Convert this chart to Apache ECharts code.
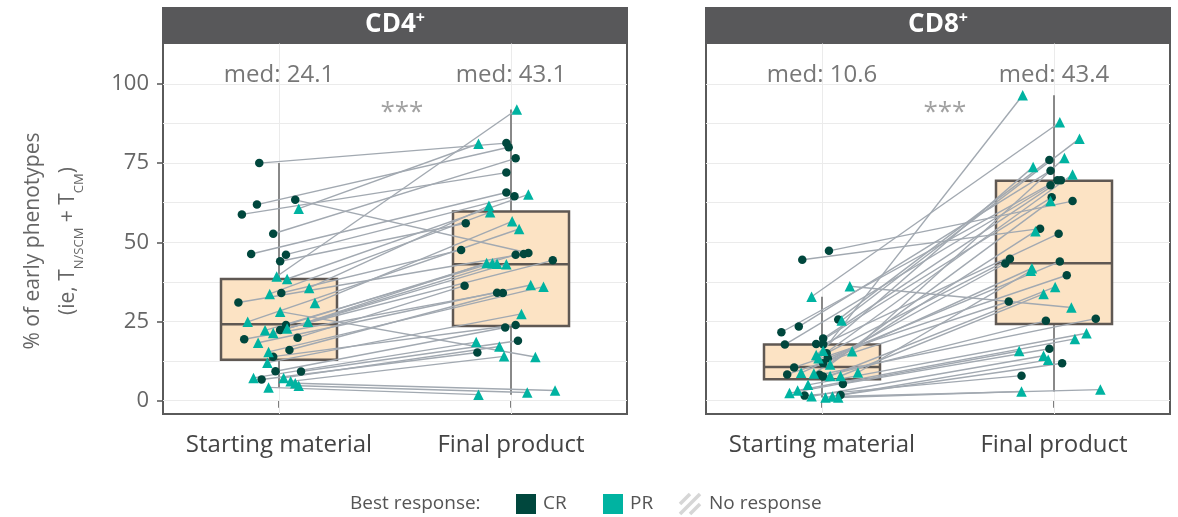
<!DOCTYPE html>
<html>
<head>
<meta charset="utf-8">
<script src="https://cdn.jsdelivr.net/npm/echarts@6/dist/echarts.min.js"></script>
<style>
  html, body { margin: 0; padding: 0; background: #fff; }
  #chart { width: 1178px; height: 517px; }
</style>
</head>
<body>
<div id="chart"></div>
<script>
// Sample stages on the x axis and tick values on the y axis
const stages = ['Starting material', 'Final product'];
const yTicks = [0, 25, 50, 75, 100];
const gridValues = [0, 12.5, 25, 37.5, 50, 62.5, 75, 87.5, 100];

// CD4+ : one entry per patient (best response, % early phenotypes before / after)
const cd4Response = [
  'CR','CR','CR','CR','CR','CR','CR','CR','CR','CR','CR','CR','CR','CR','CR','CR','CR','CR','CR',
  'PR','PR','PR','PR','PR','PR','PR','PR','PR','PR','PR','PR','PR','PR','PR','PR','PR','PR','PR','PR','PR'
];
const cd4Start = [
  75.0, 63.4, 61.9, 58.8, 52.7, 46.3, 46.1, 44.0, 34.0, 31.0, 23.9, 22.3, 19.9, 19.4, 16.0, 13.9, 9.3, 9.2, 6.7,
  60.6, 39.2, 38.4, 35.6, 33.7, 30.8, 28.1, 24.9, 24.9, 22.8, 22.2, 21.4, 18.3, 15.4, 12.0, 7.2, 7.2, 6.1, 5.5, 4.7, 4.2
];
const cd4Final = [
  81.3, 46.6, 80.0, 72.0, 76.5, 65.7, 64.5, 56.0, 47.6, 46.3, 46.1, 44.3, 36.3, 34.1, 34.0, 23.9, 23.1, 18.9, 15.2,
  81.1, 91.9, 65.1, 61.5, 59.5, 56.6, 13.8, 54.2, 43.5, 43.2, 43.4, 43.1, 36.5, 36.0, 27.4, 18.5, 17.1, 14.0, 3.2, 2.6, 1.9
];
// horizontal spread of each point around its stage (in half-stage units)
const cd4StartJitter = [
  -0.17, 0.14, -0.19, -0.32, -0.05, -0.24, 0.06, 0.01, 0.02, -0.35, 0.06, 0.01, 0.16, -0.30, 0.09, -0.05, -0.03, 0.19, -0.15,
  0.17, -0.02, 0.07, 0.26, -0.08, 0.31, 0.01, -0.27, 0.25, 0.07, -0.12, -0.05, -0.18, -0.09, -0.10, -0.22, 0.04, 0.10, 0.14, 0.17, -0.09
];
const cd4FinalJitter = [
  -0.04, 0.15, -0.02, -0.04, 0.04, -0.04, 0.03, -0.39, -0.43, 0.11, 0.04, 0.36, -0.40, -0.12, -0.07, 0.04, -0.05, 0.06, -0.29,
  -0.28, 0.05, 0.15, -0.19, -0.18, 0.01, 0.21, 0.07, -0.21, -0.12, -0.16, -0.04, 0.17, 0.28, 0.09, -0.30, -0.10, -0.06, 0.38, 0.14, -0.28
];
// box statistics per stage: [lower whisker, Q1, median, Q3, upper whisker]
const cd4Box = [
  [4.2, 12.9, 24.1, 38.4, 75.0],
  [1.9, 23.6, 43.1, 59.7, 91.9]
];

// CD8+
const cd8Response = [
  'CR','CR','CR','CR','CR','CR','CR','CR','CR','CR','CR','CR','CR','CR','CR','CR','CR','CR','CR',
  'PR','PR','PR','PR','PR','PR','PR','PR','PR','PR','PR','PR','PR','PR','PR','PR','PR','PR','PR','PR'
];
const cd8Start = [
  47.3, 44.5, 25.6, 23.4, 21.6, 19.6, 17.7, 17.9, 17.8, 15.0, 13.4, 11.8, 10.5, 8.3, 8.2, 7.6, 5.3, 1.8, 1.6,
  36.1, 32.8, 25.3, 15.8, 15.6, 14.4, 13.4, 11.4, 8.6, 8.8, 8.9, 7.8, 7.8, 5.0, 3.2, 2.4, 1.4, 1.0, 1.3, 1.0
];
const cd8Final = [
  63.0, 54.3, 76.0, 72.6, 69.6, 69.6, 68.0, 64.2, 52.7, 44.8, 43.9, 43.3, 39.6, 31.3, 25.9, 25.2, 16.4, 11.8, 7.9,
  29.4, 87.9, 82.7, 96.4, 76.6, 73.8, 71.4, 63.0, 53.5, 41.8, 41.0, 35.9, 33.7, 21.3, 19.5, 15.7, 14.2, 12.9, 3.5, 2.9
];
const cd8StartJitter = [
  0.06, -0.17, 0.14, -0.20, -0.35, 0.01, -0.32, -0.05, 0.01, 0.04, 0.05, 0.01, -0.24, -0.30, -0.02, 0.01, 0.18, 0.16, -0.15,
  0.24, -0.09, 0.17, 0.01, 0.26, -0.05, -0.03, 0.07, -0.07, -0.18, 0.31, 0.07, 0.16, -0.12, -0.21, -0.28, -0.09, 0.03, 0.09, 0.14
];
const cd8FinalJitter = [
  0.16, -0.12, -0.04, -0.03, 0.03, 0.06, -0.03, -0.02, 0.04, -0.38, 0.05, -0.42, 0.11, -0.39, 0.36, -0.07, -0.04, 0.07, -0.28,
  0.15, 0.05, 0.22, -0.27, 0.09, -0.18, 0.16, -0.03, -0.16, -0.19, -0.20, 0.01, -0.09, 0.28, 0.18, -0.30, -0.09, -0.05, 0.40, -0.28
];
const cd8Box = [
  [1.0, 6.8, 10.6, 17.7, 32.8],
  [2.9, 24.2, 43.4, 69.4, 96.4]
];

const panelTitles = ['CD4', 'CD8'];
const significance = ['***', '***'];

const panels = [
  { response: cd4Response, start: cd4Start, final: cd4Final, startJitter: cd4StartJitter, finalJitter: cd4FinalJitter, box: cd4Box },
  { response: cd8Response, start: cd8Start, final: cd8Final, startJitter: cd8StartJitter, finalJitter: cd8FinalJitter, box: cd8Box }
];

const FONT = 'Open Sans';
const COLOR = { CR: '#00473d', PR: '#00b3a1' };
const GRID_LEFT = [163, 706];
const GRID_TOP = 43;
const GRID_W = 464;
const GRID_H = 371;

// stage i sits at 1 + 2i on the hidden value axis (0..4)
const at = (stage, j) => 1 + 2 * stage + j;

function panelSeries(d, p) {
  const xCat = 2 * p, xVal = 2 * p + 1;
  const pairs = d.start.map((s, i) => ({
    coords: [[at(0, d.startJitter[i]), s], [at(1, d.finalJitter[i]), d.final[i]]]
  }));
  const points = resp => {
    const out = [];
    d.start.forEach((s, i) => {
      if (d.response[i] === resp) {
        out.push([at(0, d.startJitter[i]), s]);
        out.push([at(1, d.finalJitter[i]), d.final[i]]);
      }
    });
    return out;
  };
  const whiskers = [];
  d.box.forEach((b, i) => {
    whiskers.push({ coords: [[at(i, 0), b[0]], [at(i, 0), b[1]]] });
    whiskers.push({ coords: [[at(i, 0), b[3]], [at(i, 0), b[4]]] });
  });
  const base = { xAxisIndex: xVal, yAxisIndex: p, silent: true };
  return [
    Object.assign({}, base, {
      type: 'scatter', data: [], z: 1,
      markLine: {
        silent: true, symbol: 'none', z: 1, label: { show: false },
        lineStyle: { color: '#ebebeb', width: 1, type: 'solid' },
        emphasis: { disabled: true },
        data: gridValues.map(v => ({ yAxis: v })).concat([{ xAxis: 1 }, { xAxis: 3 }])
      }
    }),
    {
      type: 'boxplot', xAxisIndex: xCat, yAxisIndex: p, silent: true, z: 3,
      boxWidth: ['50%', '50%'],
      itemStyle: { color: '#fce3c4', borderColor: '#5f5853', borderWidth: 2.5 },
      data: d.box.map(b => [b[1], b[1], b[2], b[3], b[3]])
    },
    Object.assign({}, base, {
      type: 'lines', coordinateSystem: 'cartesian2d', z: 3,
      lineStyle: { color: '#7d7d7d', width: 1.8, opacity: 1, curveness: 0 },
      data: whiskers
    }),
    Object.assign({}, base, {
      type: 'lines', coordinateSystem: 'cartesian2d', z: 4,
      lineStyle: { color: '#a2a9b1', width: 1.4, opacity: 1, curveness: 0 },
      data: pairs
    }),
    Object.assign({}, base, {
      type: 'scatter', name: 'CR', z: 5, symbol: 'circle', symbolSize: 8.5,
      itemStyle: { color: COLOR.CR, opacity: 1 }, data: points('CR')
    }),
    Object.assign({}, base, {
      type: 'scatter', name: 'PR', z: 5, symbol: 'triangle', symbolSize: 10.5,
      itemStyle: { color: COLOR.PR, opacity: 1 }, data: points('PR')
    }),
    Object.assign({}, base, {
      type: 'scatter', z: 6, symbolSize: 0,
      label: {
        show: true, position: 'inside', fontFamily: FONT, fontSize: 24, color: '#555',
        formatter: q => 'med: ' + q.value[2].toFixed(1)
      },
      data: d.box.map((b, i) => [at(i, 0), 102.8, b[2]])
    }),
    Object.assign({}, base, {
      type: 'scatter', z: 6, symbolSize: 0,
      label: { show: true, position: 'inside', fontFamily: FONT, fontSize: 26, color: '#8a8a8a', formatter: significance[p] },
      data: [[2.06, 91]]
    })
  ];
}

const grids = GRID_LEFT.map(l => ({
  left: l, top: GRID_TOP, width: GRID_W, height: GRID_H,
  show: true, backgroundColor: '#fff', borderColor: '#5a5a5a', borderWidth: 2
}));

const xAxes = [];
const yAxes = [];
[0, 1].forEach(p => {
  xAxes.push({
    type: 'category', gridIndex: p, data: stages,
    axisLine: { show: false },
    axisTick: { show: true, alignWithLabel: true, length: 7, lineStyle: { color: '#555', width: 1.5 } },
    axisLabel: { interval: 0, margin: 19, fontFamily: FONT, fontSize: 24, color: '#444' },
    splitLine: { show: false }
  });
  xAxes.push({ type: 'value', gridIndex: p, min: 0, max: 4, show: false });
  yAxes.push({
    type: 'value', gridIndex: p, min: -4.2, max: 112.9,
    axisLine: { show: false },
    splitLine: { show: false },
    axisTick: { show: p === 0, customValues: yTicks, length: 6, lineStyle: { color: '#555', width: 1.5 } },
    axisLabel: { show: p === 0, customValues: yTicks, margin: 14, fontFamily: FONT, fontSize: 22, color: '#666' }
  });
});

const graphics = [];
// facet strips
[0, 1].forEach(p => {
  graphics.push({
    type: 'rect', z: 10, silent: true,
    shape: { x: GRID_LEFT[p] - 1, y: 7, width: GRID_W + 2, height: 36.5 },
    style: { fill: '#58585a' }
  });
  graphics.push({
    type: 'text', z: 11, silent: true,
    x: GRID_LEFT[p] + GRID_W / 2, y: 25,
    style: {
      text: '{b|' + panelTitles[p] + '}{s|+}',
      align: 'center', verticalAlign: 'middle',
      rich: {
        b: { fontFamily: FONT, fontSize: 26, fontWeight: 'bold', fill: '#fff', lineHeight: 30 },
        s: { fontFamily: FONT, fontSize: 16, fontWeight: 'bold', fill: '#fff', lineHeight: 16, verticalAlign: 'top' }
      }
    }
  });
});
// y-axis title
graphics.push({
  type: 'text', silent: true, x: 51, y: 241, rotation: Math.PI / 2,
  style: {
    text: '{a|% of early phenotypes}\n{a|(ie, T}{s|N/SCM}{a| + T}{s|CM}{a|)}',
    align: 'center', verticalAlign: 'middle', fill: '#666',
    rich: {
      a: { fontFamily: FONT, fontSize: 21, fill: '#666', lineHeight: 35 },
      s: { fontFamily: FONT, fontSize: 13, fill: '#666', lineHeight: 20, verticalAlign: 'bottom' }
    }
  }
});
// legend
const LEG_Y = 504;
graphics.push({
  type: 'text', silent: true, x: 350, y: LEG_Y,
  style: { text: 'Best response:', fontFamily: FONT, fontSize: 19, fill: '#555', verticalAlign: 'middle' }
});
graphics.push({ type: 'rect', silent: true, shape: { x: 516, y: LEG_Y - 10, width: 20, height: 20 }, style: { fill: COLOR.CR } });
graphics.push({
  type: 'text', silent: true, x: 543, y: LEG_Y,
  style: { text: 'CR', fontFamily: FONT, fontSize: 19, fill: '#555', verticalAlign: 'middle' }
});
graphics.push({ type: 'rect', silent: true, shape: { x: 603, y: LEG_Y - 10, width: 20, height: 20 }, style: { fill: COLOR.PR } });
graphics.push({
  type: 'text', silent: true, x: 630, y: LEG_Y,
  style: { text: 'PR', fontFamily: FONT, fontSize: 19, fill: '#555', verticalAlign: 'middle' }
});
// hatched swatch for "No response"
const hx = 680, hy = LEG_Y - 10;
[[0, 20, 20, 0], [0, 10, 10, 0], [10, 20, 20, 10]].forEach(s => {
  graphics.push({
    type: 'line', silent: true,
    shape: { x1: hx + s[0], y1: hy + s[1], x2: hx + s[2], y2: hy + s[3] },
    style: { stroke: '#d6d6d6', lineWidth: 3.5 }
  });
});
graphics.push({
  type: 'text', silent: true, x: 709, y: LEG_Y,
  style: { text: 'No response', fontFamily: FONT, fontSize: 19, fill: '#555', verticalAlign: 'middle' }
});

const chart = echarts.init(document.getElementById('chart'), null, { renderer: 'canvas' });
chart.setOption({
  animation: false,
  backgroundColor: '#fff',
  textStyle: { fontFamily: FONT },
  grid: grids,
  xAxis: xAxes,
  yAxis: yAxes,
  series: panelSeries(panels[0], 0).concat(panelSeries(panels[1], 1)),
  graphic: graphics
});
</script>
</body>
</html>
